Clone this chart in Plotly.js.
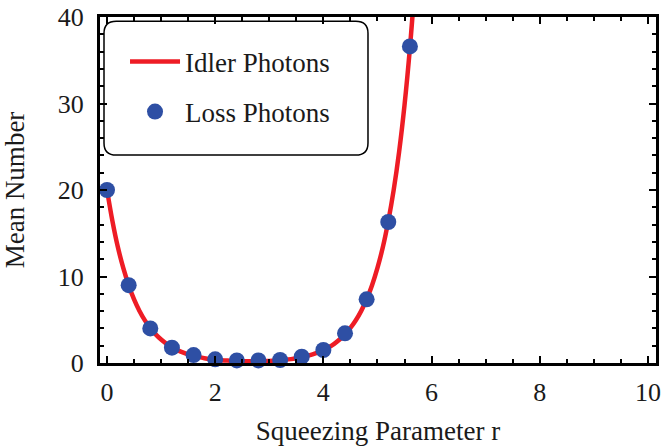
<!DOCTYPE html>
<html>
<head>
<meta charset="utf-8">
<script src="https://cdn.plot.ly/plotly-3.0.1.min.js"></script>
<style>html,body{margin:0;padding:0;background:#fff;}#chart{width:661px;height:446px;}</style>
</head>
<body>
<div id="chart"></div>
<script>
// Idler photons curve
const curveR = [0,0.1,0.2,0.3,0.4,0.5,0.6,0.7,0.8,0.9,1.0,1.1,1.2,1.3,1.4,1.5,1.6,1.7,1.8,1.9,2.0,2.1,2.2,2.3,2.4,2.5,2.6,2.7,2.8,2.9,3.0,3.1,3.2,3.3,3.4,3.5,3.6,3.7,3.8,3.9,4.0,4.1,4.2,4.3,4.4,4.5,4.6,4.7,4.8,4.9,5.0,5.1,5.2,5.3,5.4,5.5,5.6,5.7];
const idler = [20,16.4,13.4,11.0,9.0,7.36,6.02,4.93,4.04,3.31,2.71,2.22,1.81,1.49,1.22,1.00,0.82,0.68,0.56,0.46,0.39,0.33,0.29,0.25,0.23,0.21,0.20,0.20,0.21,0.22,0.24,0.27,0.31,0.37,0.45,0.55,0.67,0.82,1.0,1.22,1.49,1.82,2.22,2.71,3.31,4.05,4.94,6.03,7.37,9.0,11.0,13.4,16.4,20.0,24.4,29.8,36.4,44.5];
// Loss photons points
const lossR = [0,0.4,0.8,1.2,1.6,2.0,2.4,2.8,3.2,3.6,4.0,4.4,4.8,5.2,5.6];
const loss = [20,9.0,4.0,1.77,0.92,0.42,0.3,0.3,0.35,0.73,1.5,3.43,7.36,16.3,36.6];
const xTicks = [0,2,4,6,8,10];
const yTicks = [0,10,20,30,40];

const fam = '"Liberation Serif", "Times New Roman", serif';
const tickFont = {family: fam, size: 26, color: '#1a1a1a'};
const textFont = {family: fam, size: 27, color: '#1a1a1a'};

const traces = [
  {x: curveR, y: idler, mode: 'lines', name: 'Idler Photons', legendgroup: 'a',
   line: {color: '#ee1c25', width: 4.5, shape: 'spline'}},
  {x: lossR, y: loss, mode: 'markers', name: 'Loss Photons', legendgroup: 'b', cliponaxis: false,
   marker: {color: '#2e4fa4', size: 16}}
];

// rounded legend frame in paper coords
function rrect(x0, y0, x1, y1, rx, ry) {
  return `M${x0+rx},${y0} L${x1-rx},${y0} Q${x1},${y0} ${x1},${y0+ry} L${x1},${y1-ry} Q${x1},${y1} ${x1-rx},${y1} L${x0+rx},${y1} Q${x0},${y1} ${x0},${y1-ry} L${x0},${y0+ry} Q${x0},${y0} ${x0+rx},${y0} Z`;
}

const axisCommon = {
  showline: true, linecolor: '#000', linewidth: 3, mirror: 'ticks',
  ticks: 'inside', ticklen: 7, tickwidth: 2, tickcolor: '#000',
  showgrid: false, zeroline: false, tickfont: tickFont
};

const layout = {
  width: 661, height: 446,
  margin: {l: 100, r: 5, t: 17, b: 83},
  paper_bgcolor: '#fff', plot_bgcolor: '#fff',
  font: textFont,
  showlegend: true,
  legend: {x: 0.045, y: 0.941, xanchor: 'left', yanchor: 'top', bgcolor: 'rgba(0,0,0,0)',
           borderwidth: 0, font: textFont, itemwidth: 50, traceorder: 'grouped', tracegroupgap: 12},
  xaxis: Object.assign({}, axisCommon, {
    range: [-0.13, 10.15], tickvals: xTicks, ticktext: xTicks.map(String),
    minor: {dtick: 0.5, ticks: 'inside', ticklen: 4, tickwidth: 2, tickcolor: '#000', tick0: 0},
    ticklabelstandoff: 4,
    title: {text: 'Squeezing Parameter r', font: textFont, standoff: 18}
  }),
  yaxis: Object.assign({}, axisCommon, {
    range: [0, 40], tickvals: yTicks, ticktext: yTicks.map(String),
    minor: {dtick: 2, ticks: 'inside', ticklen: 4, tickwidth: 2, tickcolor: '#000', tick0: 0},
    ticklabelstandoff: 8,
    title: {text: 'Mean Number', font: textFont, standoff: 30}
  }),
  shapes: [
    {type: 'path', xref: 'paper', yref: 'paper', path: rrect(0.0072, 0.601, 0.482, 0.988, 0.022, 0.035),
     line: {color: '#000', width: 1.5}, fillcolor: 'rgba(0,0,0,0)'}
  ]
};

Plotly.newPlot('chart', traces, layout, {displayModeBar: false, staticPlot: true});
</script>
</body>
</html>
